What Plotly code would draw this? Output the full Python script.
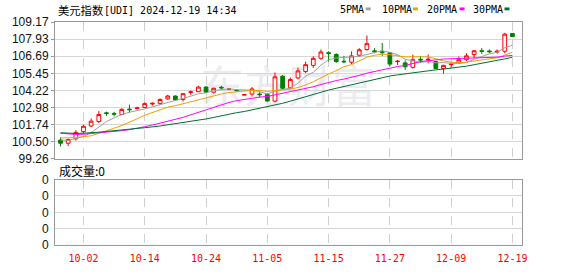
import plotly.graph_objects as go

# ---------------- data ----------------
dates = ["09-27", "09-30", "10-01", "10-02", "10-03", "10-04", "10-07", "10-08", "10-09", "10-10",
         "10-11", "10-14", "10-15", "10-16", "10-17", "10-18", "10-21", "10-22", "10-23", "10-24",
         "10-25", "10-28", "10-29", "10-30", "10-31", "11-01", "11-04", "11-05", "11-06", "11-07",
         "11-08", "11-11", "11-12", "11-13", "11-14", "11-15", "11-18", "11-19", "11-20", "11-21",
         "11-22", "11-25", "11-26", "11-27", "11-28", "11-29", "12-02", "12-03", "12-04", "12-05",
         "12-06", "12-09", "12-10", "12-11", "12-12", "12-13", "12-16", "12-17", "12-18", "12-19"]

opens = [100.62, 100.39, 100.71, 101.23, 101.64, 101.96, 102.59, 102.55, 102.47, 102.86,
         102.90, 102.98, 103.23, 103.26, 103.60, 103.81, 103.56, 104.07, 104.13, 104.46,
         104.09, 104.44, 104.30, 104.22, 103.88, 103.95, 103.95, 103.93, 103.44, 105.24,
         104.41, 105.12, 105.59, 106.03, 106.54, 106.95, 106.82, 106.33, 106.26, 106.77,
         107.18, 107.08, 107.05, 106.95, 106.30, 106.21, 105.89, 106.47, 106.42, 106.31,
         105.80, 106.08, 106.21, 106.44, 106.81, 107.09, 107.07, 107.00, 107.05, 108.34]
highs = [100.81, 100.72, 101.34, 101.73, 102.19, 102.72, 102.68, 102.66, 102.93, 103.19,
         103.03, 103.35, 103.35, 103.63, 103.90, 103.86, 104.02, 104.22, 104.55, 104.53,
         104.41, 104.55, 104.36, 104.30, 103.93, 104.46, 104.09, 104.02, 105.52, 105.33,
         105.15, 105.86, 106.31, 106.68, 107.18, 107.05, 106.91, 106.72, 107.05, 107.28,
         108.20, 107.28, 107.65, 107.00, 106.42, 106.40, 106.81, 106.72, 106.81, 106.35,
         106.07, 106.26, 106.67, 106.91, 107.14, 107.28, 107.18, 107.18, 108.39, 108.37]
lows = [100.16, 100.18, 100.58, 101.08, 101.57, 101.87, 102.38, 102.33, 102.43, 102.61,
        102.84, 102.93, 103.12, 103.19, 103.53, 103.49, 103.42, 103.90, 104.09, 104.05,
        104.00, 104.27, 104.24, 104.16, 103.87, 103.77, 103.72, 103.40, 103.35, 104.32,
        104.32, 105.03, 105.47, 105.84, 106.44, 106.30, 106.21, 106.19, 106.12, 106.63,
        107.09, 106.91, 106.72, 105.96, 106.05, 105.70, 105.80, 106.21, 106.17, 105.78,
        105.43, 105.84, 106.17, 106.35, 106.54, 106.86, 106.91, 106.88, 106.91, 108.09]
closes = [100.39, 100.66, 101.18, 101.62, 101.99, 102.47, 102.55, 102.50, 102.84, 102.82,
          102.95, 103.26, 103.28, 103.56, 103.81, 103.53, 103.98, 104.11, 104.46, 104.09,
          104.37, 104.40, 104.32, 104.19, 103.91, 104.32, 103.91, 103.45, 105.20, 104.37,
          105.01, 105.63, 106.08, 106.54, 107.00, 106.90, 106.31, 106.29, 106.72, 107.16,
          107.60, 107.02, 106.95, 106.12, 106.33, 105.93, 106.44, 106.42, 106.47, 105.80,
          106.03, 106.12, 106.44, 106.72, 107.09, 107.04, 107.02, 107.05, 108.29, 108.11]
# closes of the 29 sessions before the first visible one (for the moving averages)
prior_closes = [101.86, 101.45, 101.10, 101.50, 100.72, 100.88, 100.53, 101.09, 101.34, 101.70,
                101.67, 101.83, 101.36, 101.10, 101.18, 101.63, 101.63, 101.68, 101.37, 101.11,
                100.75, 100.88, 100.90, 101.35, 100.72, 100.86, 100.42, 100.91, 100.56]
volume_total = 0

y_ticks = [99.26, 100.50, 101.74, 102.98, 104.22, 105.45, 106.69, 107.93, 109.17]
x_tick_labels = ["10-02", "10-14", "10-24", "11-05", "11-15", "11-27", "12-09", "12-19"]
ma_periods = [5, 10, 20, 30]
ma_names = ["5PMA", "10PMA", "20PMA", "30PMA"]
ma_colors = ["#a0a0a0", "#f0a000", "#ff00ff", "#006e35"]
title_cn = "美元指数"
title_rest = "[UDI] 2024-12-19 14:34"

# ---------------- derived ----------------
x_idx = list(range(len(dates)))
all_closes = prior_closes + closes
off = len(prior_closes)


def moving_average(n):
    out = []
    for i in range(len(closes)):
        window = all_closes[off + i - n + 1: off + i + 1]
        out.append(sum(window) / len(window))
    return out


tick_idx = [dates.index(d) for d in x_tick_labels]

# ---------------- geometry (pixels) ----------------
W, H = 578, 276
L, R, T, B = 55, 522.5, 22, 255
PW, PH = R - L, B - T


def px_x(px):
    return (px - L) / PW


def px_y(py):
    return (B - py) / PH


fig = go.Figure()

for n, name, col in zip(ma_periods, ma_names, ma_colors):
    fig.add_trace(go.Scatter(x=x_idx, y=moving_average(n), mode="lines", name=name,
                             line=dict(color=col, width=1), xaxis="x", yaxis="y",
                             hoverinfo="skip", showlegend=False))

fig.add_trace(go.Candlestick(
    x=x_idx, open=opens, high=highs, low=lows, close=closes,
    increasing=dict(line=dict(color="#ff0000", width=1), fillcolor="#ffffff"),
    decreasing=dict(line=dict(color="#008000", width=1), fillcolor="#008000"),
    whiskerwidth=0, xaxis="x", yaxis="y", showlegend=False))

fig.add_trace(go.Bar(x=x_idx, y=[volume_total for _ in x_idx], xaxis="x2", yaxis="y2",
                     marker_color="#008000", showlegend=False, hoverinfo="skip"))

axis_line = "#999999"
grid_h = "#d6d6d6"
grid_v = "#cfcfcf"
num_font = dict(family="Liberation Sans, Arial, sans-serif", size=12, color="#111111")
mono = "DejaVu Sans Mono, monospace"
cjk = "Noto Sans CJK SC, sans-serif"

xr = [-0.72, 60.25]
y2_main = px_y(165)
y2_top = px_y(186.7)

fig.update_layout(
    width=W, height=H,
    margin=dict(l=L, r=W - R, t=T, b=H - B, pad=0),
    paper_bgcolor="white", plot_bgcolor="white",
    showlegend=False, boxgap=0.3,
    xaxis=dict(domain=[0, 1], range=xr, anchor="y", tickvals=tick_idx, showticklabels=False,
               showgrid=True, gridcolor=grid_v, griddash="dash", gridwidth=1,
               showline=True, mirror=True, linecolor=axis_line, linewidth=1,
               zeroline=False, ticks="", rangeslider=dict(visible=False), fixedrange=True),
    yaxis=dict(domain=[y2_main, 1], range=[y_ticks[0], y_ticks[-1]], anchor="x",
               tickvals=y_ticks, ticktext=[f"{v:.2f}" for v in y_ticks],
               showgrid=True, gridcolor=grid_h, gridwidth=1,
               showline=True, mirror=True, linecolor=axis_line, linewidth=1,
               zeroline=False, ticks="outside", ticklen=3, tickcolor=axis_line,
               tickfont=num_font),
    xaxis2=dict(domain=[0, 1], range=xr, anchor="y2", matches="x",
                tickvals=tick_idx, ticktext=x_tick_labels,
                tickfont=dict(family=mono, size=10, color="#ff0000"),
                showgrid=True, gridcolor=grid_v, griddash="dash", gridwidth=1,
                showline=True, mirror=True, linecolor=axis_line, linewidth=1,
                zeroline=False, ticks="outside", ticklen=4, tickcolor="rgba(0,0,0,0)"),
    yaxis2=dict(domain=[0, y2_top], range=[0, 4], anchor="x2",
                tickvals=[0, 1, 2, 3, 4], ticktext=["0"] * 5,
                showgrid=True, gridcolor=grid_h, gridwidth=1,
                showline=True, mirror=True, linecolor=axis_line, linewidth=1,
                zeroline=False, ticks="outside", ticklen=3, tickcolor="rgba(0,0,0,0)",
                tickfont=num_font),
)

ann = []
shapes = []
# title
ann.append(dict(text=title_cn, x=px_x(56), y=px_y(9.5), xref="paper", yref="paper",
                xanchor="left", yanchor="middle", showarrow=False,
                font=dict(family=cjk, size=11.3, color="#000000")))
ann.append(dict(text=title_rest, x=px_x(102.5), y=px_y(9.5), xref="paper", yref="paper",
                xanchor="left", yanchor="middle", showarrow=False,
                font=dict(family=mono, size=10, color="#000000")))
# legend
leg_text_x = [338.3, 380.7, 425.7, 471.7]
leg_mark_x = [366, 413.3, 460, 505]
for name, col, tx, mx in zip(ma_names, ma_colors, leg_text_x, leg_mark_x):
    ann.append(dict(text=name, x=px_x(tx), y=px_y(9), xref="paper", yref="paper",
                    xanchor="left", yanchor="middle", showarrow=False,
                    font=dict(family=mono, size=10, color="#000000")))
    shapes.append(dict(type="rect", xref="paper", yref="paper",
                       x0=px_x(mx), x1=px_x(mx + 5), y0=px_y(9.8), y1=px_y(6.8),
                       fillcolor=col, line=dict(width=0)))
# volume label
ann.append(dict(text="成交量:0", x=px_x(57), y=px_y(177.5), xref="paper", yref="paper",
                xanchor="left", yanchor="middle", showarrow=False,
                font=dict(family=cjk, size=12, color="#000000")))
# watermark (below the traces)
shapes.append(dict(type="rect", xref="paper", yref="paper", layer="below",
                   x0=px_x(192), x1=px_x(385), y0=px_y(118), y1=px_y(70),
                   fillcolor="rgba(0,0,0,0)", line=dict(width=0),
                   label=dict(text="东方财富", font=dict(family=cjk, size=44, color="#ececf0"),
                              textposition="middle center")))

fig.update_layout(annotations=ann, shapes=shapes)
fig.write_html("out.html")
